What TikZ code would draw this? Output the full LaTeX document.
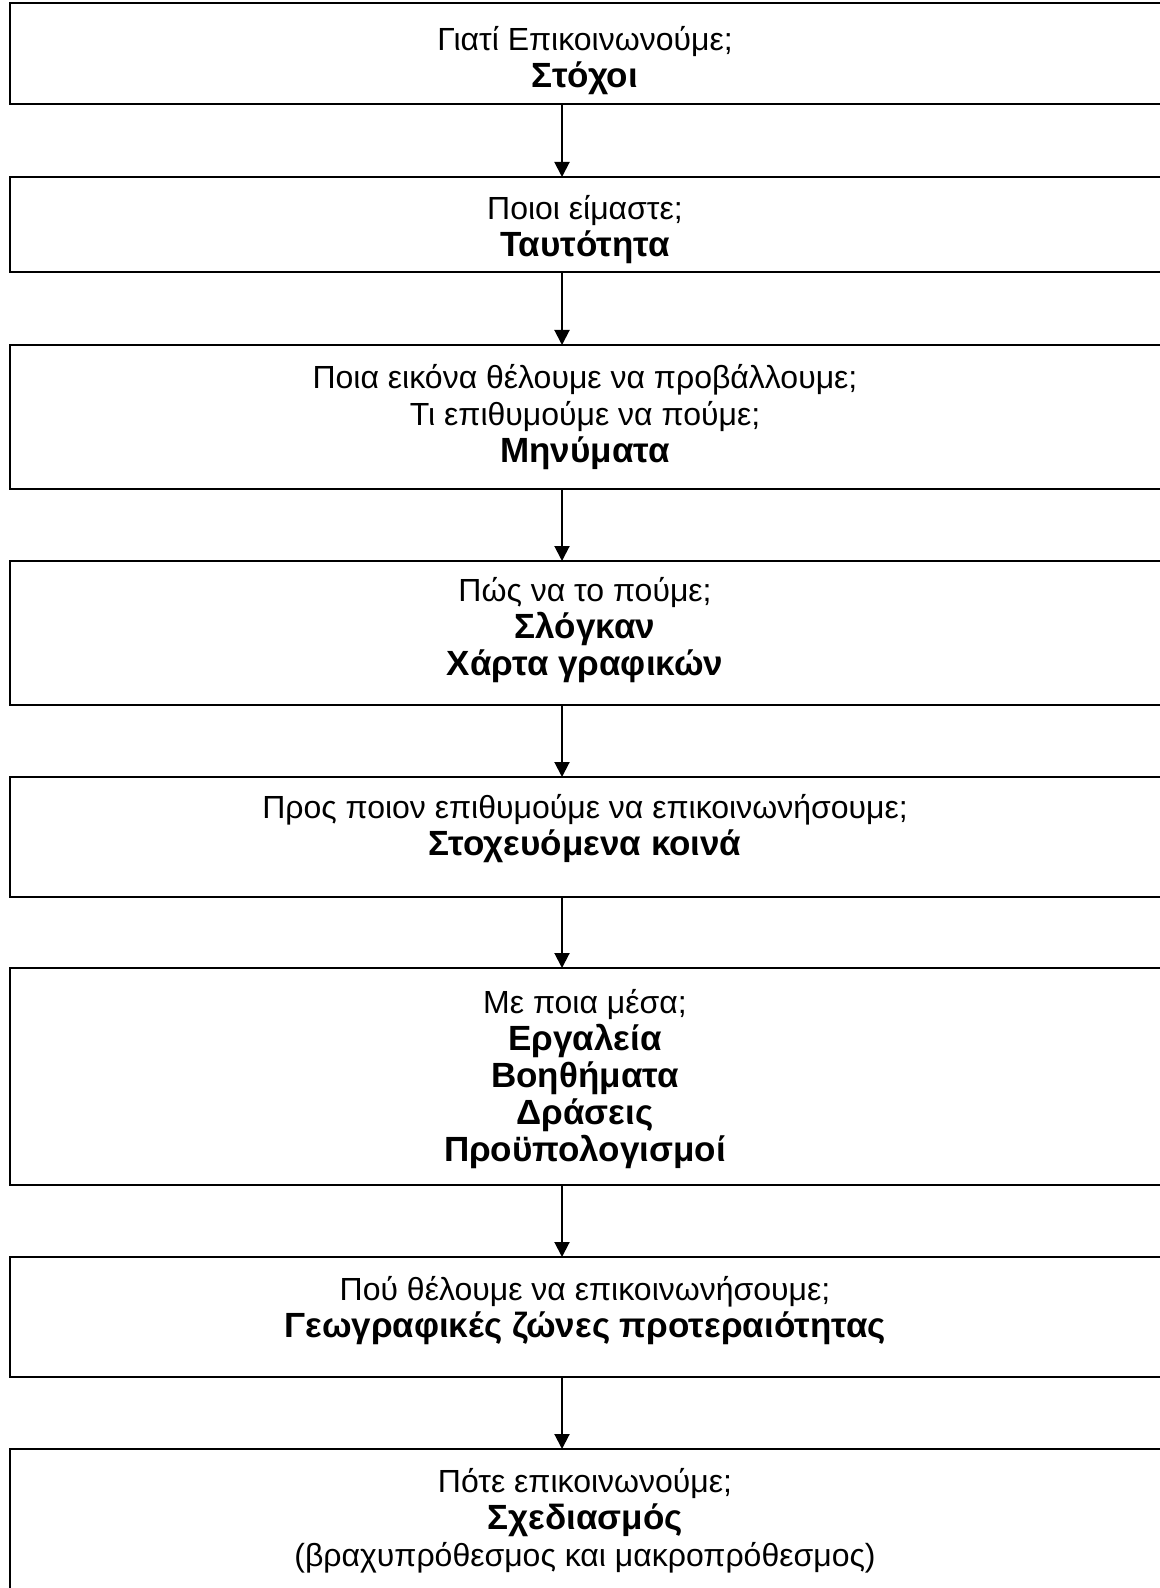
\documentclass[tikz,border=0pt]{standalone}
\usepackage{fontspec}
\setmainfont{Liberation Sans}
\usepackage{tikz}
\usetikzlibrary{arrows.meta, positioning, calc}
\newcommand{\keyline}[1]{{\fontsize{17.5}{18.5}\selectfont\bfseries #1}}
\tikzset{
    frame/.style={
        rectangle, draw=black, line width=1pt,
        minimum width=595pt, inner sep=0pt, outer sep=0pt,
        anchor=north west
    },
    label/.style={
        align=center, inner sep=0pt,
        font=\fontsize{16}{18.5}\selectfont
    },
    arrow/.style={line width=1pt,-{Triangle[width=7.5pt,length=7.5pt]}}
}
\begin{document}
\begin{tikzpicture}[x=0.5pt, y=-0.5pt]
    \useasboundingbox (0,0) rectangle (1160,1588);
    \clip (0,0) rectangle (1160,1588);
    % Frames
    \node (b1) [frame, minimum height=50.5pt] at (9.5,3) {};
    \node (b2) [frame, minimum height=47.75pt] at (9.5,177) {};
    \node (b3) [frame, minimum height=72pt] at (9.5,345) {};
    \node (b4) [frame, minimum height=72pt] at (9.5,561) {};
    \node (b5) [frame, minimum height=60pt] at (9.5,777) {};
    \node (b6) [frame, minimum height=108.5pt] at (9.5,968) {};
    \node (b7) [frame, minimum height=60pt] at (9.5,1257) {};
    \node (b8) [frame, minimum height=85.5pt] at (9.5,1449) {};

    % Texts
    \node (t1) [label] at (585,61) {Γιατί Επικοινωνούμε;\\ \keyline{Στόχοι}};
    \node (t2) [label] at (585,229.5) {Ποιοι είμαστε;\\ \keyline{Ταυτότητα}};
    \node (t3) [label] at (585,417.5) {Ποια εικόνα θέλουμε να προβάλλουμε;\\ Τι επιθυμούμε να πούμε;\\ \keyline{Μηνύματα}};
    \node (t4) [label] at (585,630.5) {Πώς να το πούμε;\\ \keyline{Σλόγκαν}\\ \keyline{Χάρτα γραφικών}};
    \node (t5) [label] at (585,829) {Προς ποιον επιθυμούμε να επικοινωνήσουμε;\\ \keyline{Στοχευόμενα κοινά}};
    \node (t6) [label] at (585,1079) {Με ποια μέσα;\\ \keyline{Εργαλεία}\\ \keyline{Βοηθήματα}\\ \keyline{Δράσεις}\\ \keyline{Προϋπολογισμοί}};
    \node (t7) [label] at (585,1311) {Πού θέλουμε να επικοινωνήσουμε;\\ \keyline{Γεωγραφικές ζώνες προτεραιότητας}};
    \node (t8) [label] at (585,1521) {Πότε επικοινωνούμε;\\ \keyline{Σχεδιασμός}\\ (βραχυπρόθεσμος και μακροπρόθεσμος)};

    % Arrows
    \coordinate (axis) at (562,0);
    \draw [arrow] (axis |- b1.south) -- (axis |- b2.north);
    \draw [arrow] (axis |- b2.south) -- (axis |- b3.north);
    \draw [arrow] (axis |- b3.south) -- (axis |- b4.north);
    \draw [arrow] (axis |- b4.south) -- (axis |- b5.north);
    \draw [arrow] (axis |- b5.south) -- (axis |- b6.north);
    \draw [arrow] (axis |- b6.south) -- (axis |- b7.north);
    \draw [arrow] (axis |- b7.south) -- (axis |- b8.north);
\end{tikzpicture}
\end{document}
